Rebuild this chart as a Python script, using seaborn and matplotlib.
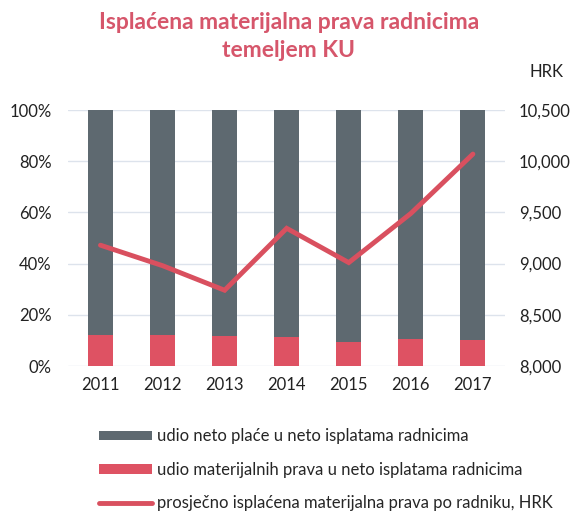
import numpy as np
import pandas as pd
import matplotlib
matplotlib.use("Agg")
import matplotlib.pyplot as plt
import seaborn as sns
from matplotlib.patches import Patch
from matplotlib.lines import Line2D
from matplotlib.ticker import FuncFormatter

# -----------------------------
# Data
# -----------------------------
years = ["2011", "2012", "2013", "2014", "2015", "2016", "2017"]
share_rights = [12.0, 12.0, 11.9, 11.5, 9.5, 10.4, 10.3]      # % red part
share_wage = [100 - v for v in share_rights]                    # % gray part
avg_rights_hrk = [9180, 8980, 8740, 9345, 9010, 9490, 10070]   # HRK line

label_wage = "udio neto plaće u neto isplatama radnicima"
label_rights = "udio materijalnih prava u neto isplatama radnicima"
label_line = "prosječno isplaćena materijalna prava po radniku, HRK"
title = "Isplaćena materijalna prava radnicima\ntemeljem KU"

gray = "#5e6970"
red = "#de5263"
line_red = "#d9505f"
title_col = "#d6566b"

sns.set_theme(style="white")
plt.rcParams["font.family"] = ["Lato", "DejaVu Sans"]

df = pd.DataFrame({"year": years, "total": 100.0, "rights": share_rights})

fig = plt.figure(figsize=(5.78, 5.24), dpi=100)
ax = fig.add_axes([0.118, 0.3015, 0.756, 0.4885])

# stacked bars: full 100% gray, red overlay on the bottom
sns.barplot(data=df, x="year", y="total", color=gray, width=0.4,
            saturation=1, linewidth=0, ax=ax)
sns.barplot(data=df, x="year", y="rights", color=red, width=0.4,
            saturation=1, linewidth=0, ax=ax)

ax.set_ylim(0, 100)
ax.set_yticks([0, 20, 40, 60, 80, 100])
ax.yaxis.set_major_formatter(FuncFormatter(lambda v, p: f"{v:.0f}%"))
ax.set_xlabel("")
ax.set_ylabel("")
ax.grid(axis="y", color="#dde3ec", lw=1)
ax.set_axisbelow(True)
for s in ax.spines.values():
    s.set_visible(False)
ax.tick_params(axis="both", labelsize=12, length=0, colors="#222222")
ax.tick_params(axis="y", pad=12)
ax.tick_params(axis="x", pad=8)

# line on secondary axis
ax2 = ax.twinx()
ax2.plot(range(len(years)), avg_rights_hrk, color=line_red, lw=3.5,
         solid_joinstyle="miter")
ax2.set_ylim(8000, 10500)
ax2.set_yticks([8000, 8500, 9000, 9500, 10000, 10500])
ax2.yaxis.set_major_formatter(FuncFormatter(lambda v, p: f"{v:,.0f}"))
ax2.grid(False)
for s in ax2.spines.values():
    s.set_visible(False)
ax2.tick_params(axis="y", labelsize=12, length=0, pad=10, colors="#222222")

fig.text(0.945, 0.862, "HRK", fontsize=12, ha="center", va="center",
         color="#222222")
fig.text(0.50, 0.93, title, fontsize=16.5, fontweight="bold", ha="center",
         va="center", color=title_col, linespacing=1.4)

handles = [
    Patch(facecolor=gray, edgecolor="none"),
    Patch(facecolor=red, edgecolor="none"),
    Line2D([0], [0], color=line_red, lw=3.5),
]
fig.legend(handles, [label_wage, label_rights, label_line],
           loc="upper left", bbox_to_anchor=(0.16, 0.195), frameon=False,
           fontsize=12, handlelength=3.2, handleheight=0.5,
           handletextpad=0.3, labelspacing=1.05, borderaxespad=0)

fig.savefig("out.png", dpi=100)
